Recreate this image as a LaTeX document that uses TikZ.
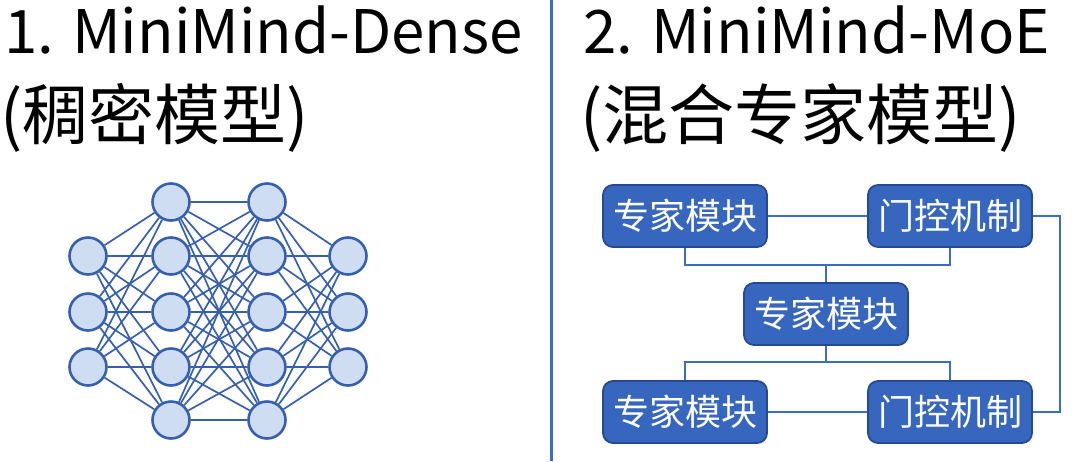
\documentclass[tikz,border=0pt]{standalone}
\usepackage{fontspec}
\setmainfont{Noto Sans CJK SC}
\usetikzlibrary{positioning,calc}
\definecolor{netblue}{RGB}{55,95,175}
\definecolor{cellfill}{RGB}{207,221,243}
\definecolor{boxblue}{RGB}{54,102,190}
\definecolor{boxedge}{RGB}{38,74,145}
\definecolor{wireblue}{RGB}{60,108,196}
\tikzset{
  neuron/.style={circle,draw=netblue,fill=cellfill,line width=1.3pt,
    minimum size=18.5pt,inner sep=0pt},
  synapse/.style={draw=netblue,line width=0.85pt},
  module/.style={fill=boxblue,draw=boxedge,line width=0.9pt,rounded corners=5pt,
    minimum width=82pt,minimum height=31pt,inner sep=0pt,text=white,
    font=\fontsize{18}{20}\selectfont},
  wire/.style={draw=wireblue,line width=1.2pt},
  heading/.style={anchor=base west,inner sep=0pt,font=\fontsize{30}{36}\selectfont},
  cnheading/.style={heading,font=\fontsize{33}{38}\selectfont},
}
\begin{document}
\begin{tikzpicture}[x=0.5pt,y=-0.5pt]
    \useasboundingbox (0,0) rectangle (1080,461);
    % titles
    \node[heading] (t1) at (4,53) {1. MiniMind-Dense};
    \node[cnheading] (t1cn) at (0,139) {(稠密模型)};
    \node[heading] (t2) at (583,53) {2. MiniMind-MoE};
    \node[cnheading] (t2cn) at (580,139) {(混合专家模型)};
    % divider
    \coordinate (divtop) at (551,0);
    \coordinate (divbot) at (551,461);
    \draw[wireblue,line width=1.5pt] (divtop) -- (divbot);
    % dense network
    \foreach \y/\n in {256/1,312/2,367/3}{
      \node[neuron] (a\n) at (88,\y) {};
      \node[neuron] (d\n) at (348,\y) {};
    }
    \foreach \y/\n in {202/1,256/2,312/3,367/4,420/5}{
      \node[neuron] (b\n) at (171,\y) {};
      \node[neuron] (c\n) at (267,\y) {};
    }
    \foreach \i in {1,2,3} \foreach \j in {1,...,5}{
      \draw[synapse] (a\i) -- (b\j);
      \draw[synapse] (c\j) -- (d\i);
    }
    \foreach \i in {1,...,5} \foreach \j in {1,...,5}
      \draw[synapse] (b\i) -- (c\j);
    % mixture of experts
    \node[module] (e1) at (685,216) {专家模块};
    \node[module] (g1) at (950,216) {门控机制};
    \node[module] (e2) at (826,314) {专家模块};
    \node[module] (e3) at (685,412) {专家模块};
    \node[module] (g2) at (950,412) {门控机制};
    \coordinate (upjoin) at (826,265);
    \coordinate (lowjoin) at (826,362);
    \draw[wire] (e1) -- (g1);
    \draw[wire] (e3) -- (g2);
    \draw[wire] (e1.south) |- (upjoin) -| (g1.south);
    \draw[wire] (upjoin) -- (e2.north);
    \draw[wire] (e2.south) -- (lowjoin);
    \draw[wire] (e3.north) |- (lowjoin) -| (g2.north);
    \draw[wire] (g1.east) -- ++(27,0) |- (g2.east);
  \end{tikzpicture}
\end{document}
